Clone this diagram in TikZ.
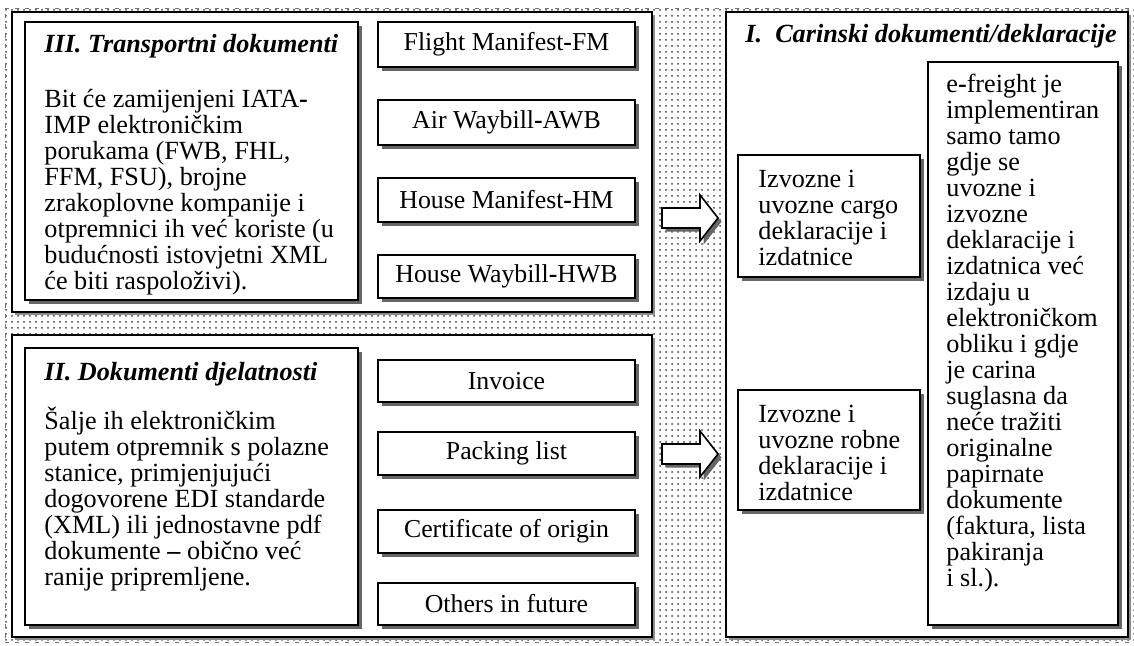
\documentclass[tikz,border=0pt]{standalone}
\usepackage{fontspec}
\setmainfont{Liberation Serif}
\usetikzlibrary{patterns,shadows,fit}
\begin{document}
\begin{tikzpicture}[x=0.5pt,y=-0.5pt,
  boxshadow/.style={drop shadow={shadow xshift=1.8pt,shadow yshift=-1.8pt,fill=black!60,opacity=1}},
  panelshadow/.style={drop shadow={shadow xshift=1.6pt,shadow yshift=-1.6pt,fill=black!45,opacity=1}},
  panel/.style={draw=black,line width=0.7pt,fill=white,panelshadow,inner sep=0pt},
  docbox/.style={draw=black,line width=0.8pt,fill=white,boxshadow,inner sep=0pt},
  blockarrow/.style={draw=black,line width=0.8pt,fill=white,boxshadow},
  txt/.style={font=\fontsize{13.1}{13}\selectfont,inner sep=0pt,align=left,anchor=north west},
  ttl/.style={font=\fontsize{13.1}{13}\selectfont\bfseries\itshape,inner sep=0pt,anchor=base west},
  lbl/.style={font=\fontsize{12.9}{13}\selectfont,inner sep=0pt},
  ]
\useasboundingbox (0,0) rectangle (1134,646);
% dotted background
\node[fit={(5,8) (1145,642)},inner sep=0pt,pattern=dots,pattern color=black!75,
      draw=black!55,line width=0.4pt,dash pattern=on 2pt off 3pt] (bg) {};

% panels
\node[panel,fit={(12,12) (652,312)}] (p3) {};
\node[panel,fit={(12,335) (652,637)}] (p2) {};
\node[panel,fit={(726,12) (1128,637)}] (p1) {};

% panel III
\node[docbox,fit={(25,22) (358,300)}] (b3) {};
\node[ttl] (t3) at (44,53) {III. Transportni dokumenti};
\node[txt] (x3) at (44,83) {\rule{0pt}{12pt}Bit će zamijenjeni IATA\textbf{-}\\IMP elektroničkim\\porukama (FWB, FHL,\\FFM, FSU), brojne\\zrakoplovne kompanije i\\otpremnici ih već koriste (u\\budućnosti istovjetni XML\\će biti raspoloživi).};

\node[docbox,fit={(378,22) (635,67)}] (fm) {};
\node[lbl] (fmt) at (fm.center) {Flight Manifest\textbf{-}FM};
\node[docbox,fit={(378,100) (635,145)}] (awb) {};
\node[lbl] (awbt) at (awb.center) {Air Waybill\textbf{-}AWB};
\node[docbox,fit={(378,178) (635,222)}] (hm) {};
\node[lbl] (hmt) at (hm.center) {House Manifest\textbf{-}HM};
\node[docbox,fit={(378,255) (635,298)}] (hwb) {};
\node[lbl] (hwbt) at (hwb.center) {House Waybill\textbf{-}HWB};

% panel II
\node[docbox,fit={(25,348) (358,625)}] (b2) {};
\node[ttl] (t2) at (44,380) {II. Dokumenti djelatnosti};
\node[txt] (x2) at (44,405) {\rule{0pt}{12pt}Šalje ih elektroničkim\\putem otpremnik s polazne\\stanice, primjenjujući\\dogovorene EDI standarde\\(XML) ili jednostavne pdf\\dokumente \textbf{–} obično već\\ranije pripremljene.};

\node[docbox,fit={(378,360) (635,402)}] (inv) {};
\node[lbl] (invt) at (inv.center) {Invoice};
\node[docbox,fit={(378,432) (635,475)}] (pack) {};
\node[lbl] (packt) at (pack.center) {Packing list};
\node[docbox,fit={(378,510) (635,553)}] (cert) {};
\node[lbl] (certt) at (cert.center) {Certificate of origin};
\node[docbox,fit={(378,583) (635,625)}] (oth) {};
\node[lbl] (otht) at (oth.center) {Others in future};

% panel I
\node[ttl] (t1) at (745,43) {I.\ \ Carinski dokumenti/deklaracije};
\node[docbox,fit={(738,155) (920,277)}] (cargo) {};
\node[txt] (cargot) at (758,163) {\rule{0pt}{12pt}Izvozne i\\uvozne cargo\\deklaracije i\\izdatnice};
\node[docbox,fit={(738,390) (920,510)}] (robne) {};
\node[txt] (robnet) at (758,398) {\rule{0pt}{12pt}Izvozne i\\uvozne robne\\deklaracije i\\izdatnice};
\node[docbox,fit={(928,62) (1118,625)}] (ef) {};
\node[txt] (eft) at (946,68) {\rule{0pt}{12pt}e\textbf{-}freight je\\implementiran\\samo tamo\\gdje se\\uvozne i\\izvozne\\deklaracije i\\izdatnica već\\izdaju u\\elektroničkom\\obliku i gdje\\je carina\\suglasna da\\neće tražiti\\originalne\\papirnate\\dokumente\\(faktura, lista\\pakiranja\\i sl.).};

% block arrows
\path[blockarrow] (662,208) -- (700,208) -- (700,195) -- (718,218) -- (700,241) -- (700,228) -- (662,228) -- cycle;
\path[blockarrow] (662,444) -- (700,444) -- (700,431) -- (718,454) -- (700,477) -- (700,464) -- (662,464) -- cycle;
\end{tikzpicture}
\end{document}
